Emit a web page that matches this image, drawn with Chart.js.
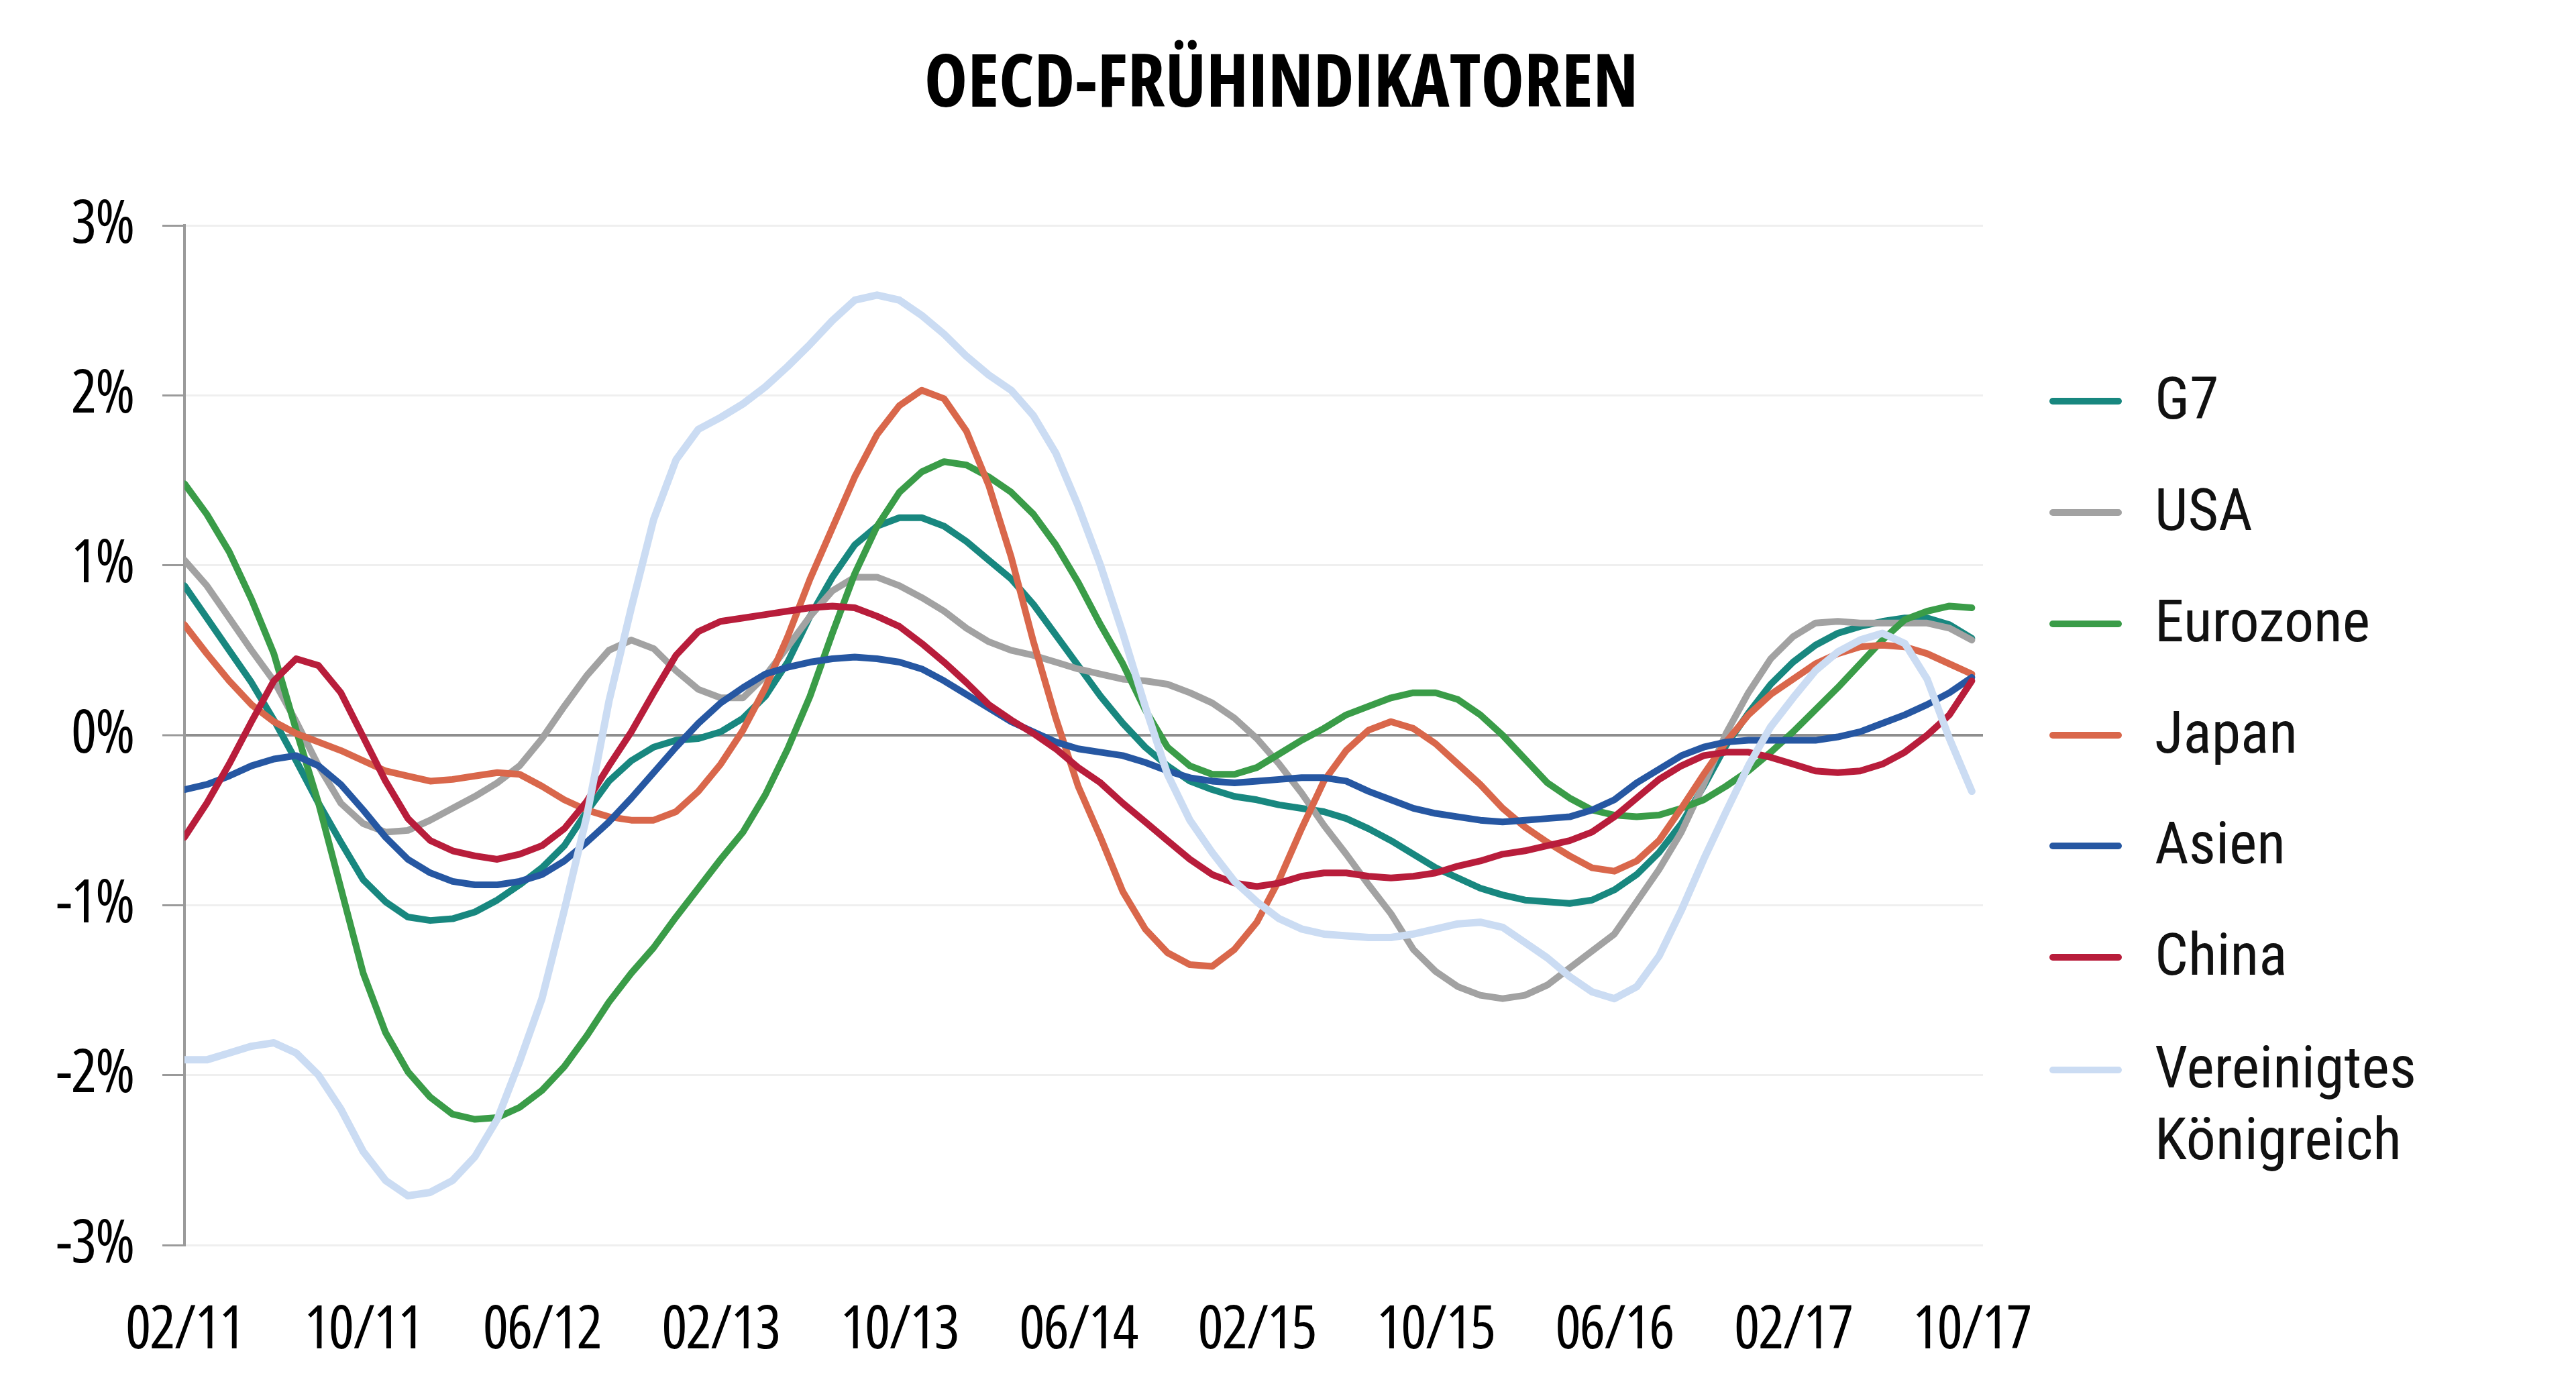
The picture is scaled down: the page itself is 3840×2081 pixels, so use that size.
<!DOCTYPE html>
<html><head><meta charset="utf-8">
<script src="https://cdn.jsdelivr.net/npm/chart.js@4.4.1/dist/chart.umd.min.js"></script>
<style>
html,body{margin:0;padding:0;background:#fff;overflow:hidden;}
#wrap{position:relative;width:3840px;height:2081px;}
#title{position:absolute;left:0;top:62px;width:3820px;text-align:center;font:700 condensed 109px 'Open Sans';line-height:109px;color:#000;margin:0;}
#legend{position:absolute;left:0;top:0;}
.li{position:absolute;left:3055px;}
.sw{position:absolute;left:0;width:108px;height:10px;border-radius:5px;}
.tx{position:absolute;left:157px;white-space:nowrap;font-family:Roboto;font-size:88px;font-stretch:78%;line-height:107px;color:#111;}
canvas{position:absolute;left:0;top:0;}
</style></head><body>
<div id="wrap">
<canvas id="c" width="3840" height="2081" style="width:3840px;height:2081px"></canvas>
<h1 id="title">OECD-FRÜHINDIKATOREN</h1>
<div id="legend"></div>
</div>
<script>
// x positions are months Feb 2011 (0) ... Oct 2017 (80)
const xTickLabels = ['02/11','10/11','06/12','02/13','10/13','06/14','02/15','10/15','06/16','02/17','10/17'];
const yTickLabels = ['-3%','-2%','-1%','0%','1%','2%','3%'];
const seriesNames = ['G7','USA','Eurozone','Japan','Asien','China',['Vereinigtes','Königreich']];
const seriesColors = ['#18877f','#a2a2a2','#3a9c48','#d9674b','#2657a2','#b81d3b','#cbdcf3'];

const g7 = [0.88,0.69,0.50,0.31,0.09,-0.15,-0.40,-0.63,-0.85,-0.98,
  -1.07,-1.09,-1.08,-1.04,-0.97,-0.88,-0.78,-0.65,-0.45,-0.27,
  -0.15,-0.07,-0.03,-0.02,0.02,0.10,0.23,0.43,0.70,0.93,
  1.12,1.23,1.28,1.28,1.23,1.14,1.03,0.92,0.77,0.59,
  0.41,0.23,0.07,-0.07,-0.18,-0.27,-0.32,-0.36,-0.38,-0.41,
  -0.43,-0.45,-0.49,-0.55,-0.62,-0.70,-0.78,-0.84,-0.90,-0.94,
  -0.97,-0.98,-0.99,-0.97,-0.91,-0.82,-0.69,-0.52,-0.30,-0.06,
  0.13,0.30,0.43,0.53,0.60,0.64,0.67,0.69,0.69,0.65,
  0.57];
const usa = [1.03,0.88,0.69,0.50,0.32,0.08,-0.18,-0.40,-0.52,-0.57,
  -0.56,-0.50,-0.43,-0.36,-0.28,-0.18,-0.02,0.17,0.35,0.50,
  0.56,0.51,0.38,0.27,0.22,0.22,0.35,0.52,0.70,0.85,
  0.93,0.93,0.88,0.81,0.73,0.63,0.55,0.50,0.47,0.43,
  0.39,0.36,0.33,0.32,0.30,0.25,0.19,0.10,-0.02,-0.17,
  -0.34,-0.53,-0.70,-0.88,-1.05,-1.26,-1.39,-1.48,-1.53,-1.55,
  -1.53,-1.47,-1.37,-1.27,-1.17,-0.98,-0.79,-0.57,-0.29,0.01,
  0.25,0.45,0.58,0.66,0.67,0.66,0.66,0.66,0.66,0.63,
  0.56];
const eurozone = [1.48,1.30,1.08,0.80,0.48,0.03,-0.40,-0.90,-1.40,-1.75,
  -1.98,-2.13,-2.23,-2.26,-2.25,-2.19,-2.09,-1.95,-1.77,-1.57,
  -1.40,-1.25,-1.07,-0.90,-0.73,-0.57,-0.35,-0.08,0.23,0.60,
  0.95,1.23,1.43,1.55,1.61,1.59,1.52,1.43,1.30,1.12,
  0.90,0.65,0.42,0.15,-0.07,-0.18,-0.23,-0.23,-0.19,-0.11,
  -0.03,0.04,0.12,0.17,0.22,0.25,0.25,0.21,0.12,0.00,
  -0.14,-0.28,-0.37,-0.44,-0.47,-0.48,-0.47,-0.43,-0.38,-0.30,
  -0.21,-0.10,0.02,0.15,0.28,0.42,0.56,0.68,0.73,0.76,
  0.75];
const japan = [0.65,0.48,0.32,0.18,0.08,0.01,-0.04,-0.09,-0.15,-0.21,
  -0.24,-0.27,-0.26,-0.24,-0.22,-0.23,-0.30,-0.38,-0.44,-0.48,
  -0.50,-0.50,-0.45,-0.33,-0.17,0.03,0.28,0.58,0.92,1.22,
  1.52,1.77,1.94,2.03,1.98,1.79,1.47,1.05,0.55,0.10,
  -0.30,-0.60,-0.92,-1.14,-1.28,-1.35,-1.36,-1.26,-1.10,-0.85,
  -0.55,-0.27,-0.09,0.03,0.08,0.04,-0.05,-0.17,-0.29,-0.43,
  -0.54,-0.63,-0.71,-0.78,-0.80,-0.74,-0.62,-0.43,-0.23,-0.04,
  0.12,0.24,0.33,0.42,0.48,0.52,0.53,0.52,0.48,0.42,
  0.36];
const asien = [-0.32,-0.29,-0.24,-0.18,-0.14,-0.12,-0.18,-0.29,-0.44,-0.60,
  -0.73,-0.81,-0.86,-0.88,-0.88,-0.86,-0.82,-0.74,-0.63,-0.51,
  -0.37,-0.22,-0.07,0.07,0.19,0.28,0.36,0.40,0.43,0.45,
  0.46,0.45,0.43,0.39,0.32,0.24,0.16,0.08,0.02,-0.04,
  -0.08,-0.10,-0.12,-0.16,-0.21,-0.25,-0.27,-0.28,-0.27,-0.26,
  -0.25,-0.25,-0.27,-0.33,-0.38,-0.43,-0.46,-0.48,-0.50,-0.51,
  -0.50,-0.49,-0.48,-0.44,-0.38,-0.28,-0.20,-0.12,-0.07,-0.04,
  -0.03,-0.03,-0.03,-0.03,-0.01,0.02,0.07,0.12,0.18,0.25,
  0.34];
const china = [-0.60,-0.40,-0.17,0.08,0.32,0.45,0.41,0.25,-0.01,-0.27,
  -0.49,-0.62,-0.68,-0.71,-0.73,-0.70,-0.65,-0.55,-0.39,-0.18,
  0.02,0.25,0.47,0.61,0.67,0.69,0.71,0.73,0.75,0.76,
  0.75,0.70,0.64,0.54,0.43,0.31,0.18,0.09,0.01,-0.08,
  -0.19,-0.28,-0.40,-0.51,-0.62,-0.73,-0.82,-0.87,-0.89,-0.87,
  -0.83,-0.81,-0.81,-0.83,-0.84,-0.83,-0.81,-0.77,-0.74,-0.70,
  -0.68,-0.65,-0.62,-0.57,-0.48,-0.37,-0.26,-0.18,-0.12,-0.10,
  -0.10,-0.13,-0.17,-0.21,-0.22,-0.21,-0.17,-0.10,0.00,0.12,
  0.32];
const uk = [-1.91,-1.91,-1.87,-1.83,-1.81,-1.87,-2.00,-2.20,-2.45,-2.62,
  -2.71,-2.69,-2.62,-2.48,-2.26,-1.92,-1.55,-1.03,-0.48,0.20,
  0.75,1.27,1.62,1.80,1.87,1.95,2.05,2.17,2.30,2.44,
  2.56,2.59,2.56,2.47,2.36,2.23,2.12,2.03,1.88,1.66,
  1.35,1.00,0.60,0.17,-0.23,-0.50,-0.69,-0.86,-0.98,-1.08,
  -1.14,-1.17,-1.18,-1.19,-1.19,-1.17,-1.14,-1.11,-1.10,-1.13,
  -1.22,-1.31,-1.42,-1.51,-1.55,-1.48,-1.30,-1.03,-0.73,-0.45,
  -0.18,0.05,0.22,0.38,0.49,0.56,0.60,0.54,0.33,-0.02,
  -0.33];

const seriesValues = [g7, usa, eurozone, japan, asien, china, uk];
const seriesWidths = [10,10,10,10,10,10,11];

const datasets = seriesValues.map((vals, i) => ({
  label: Array.isArray(seriesNames[i]) ? seriesNames[i].join(' ') : seriesNames[i],
  data: vals.map((v, m) => ({x: m, y: v})),
  borderColor: seriesColors[i],
  backgroundColor: seriesColors[i],
  borderWidth: seriesWidths[i],
  borderJoinStyle: 'round',
  borderCapStyle: 'round',
  pointRadius: 0,
  tension: 0,
  fill: false,
  order: seriesValues.length - 1 - i
}));

const tickFont = {family: "'Open Sans'", weight: '400 condensed', size: 90};

const tightText = {
  id: 'tightText',
  beforeDraw(chart) { chart.ctx.letterSpacing = '-2px'; }
};

new Chart(document.getElementById('c'), {
  type: 'line',
  data: {datasets},
  plugins: [tightText],
  options: {
    responsive: false,
    devicePixelRatio: 1,
    animation: false,
    layout: {padding: {top: 336, right: 884, bottom: 0, left: 0}},
    plugins: {legend: {display: false}, title: {display: false}, tooltip: {enabled: false}},
    scales: {
      x: {
        type: 'linear',
        min: 0,
        max: 80.5,
        afterFit: s => { s.height = 225; },
        afterBuildTicks: s => { s.ticks = xTickLabels.map((l, i) => ({value: i * 8})); },
        ticks: {
          autoSkip: false, maxRotation: 0, minRotation: 0,
          padding: 74, color: '#000', font: tickFont,
          callback: (v) => xTickLabels[Math.round(v / 8)]
        },
        grid: {display: false, drawTicks: false},
        border: {display: false}
      },
      y: {
        type: 'linear',
        min: -3,
        max: 3,
        afterFit: s => { s.width = 275; },
        afterBuildTicks: s => { s.ticks = yTickLabels.map((l, i) => ({value: i - 3})); },
        ticks: {
          padding: 43, color: '#000', font: tickFont,
          callback: (v) => yTickLabels[Math.round(v) + 3]
        },
        grid: {
          color: c => (c.tick && c.tick.value === 0) ? '#8e8e8e' : '#efefef',
          lineWidth: c => (c.tick && c.tick.value === 0) ? 4 : 3,
          tickColor: '#9a9a9a',
          tickLength: 33,
          tickWidth: 3,
          drawTicks: true
        },
        border: {display: true, color: '#9a9a9a', width: 4}
      }
    }
  }
});

// legend
const legendRows = [598, 764, 930, 1096, 1261, 1427, 1595];
const lg = document.getElementById('legend');
seriesNames.forEach((name, i) => {
  const li = document.createElement('div');
  li.className = 'li';
  li.style.top = legendRows[i] + 'px';
  const sw = document.createElement('div');
  sw.className = 'sw';
  sw.style.top = '-5px';
  sw.style.background = seriesColors[i];
  const tx = document.createElement('div');
  tx.className = 'tx';
  tx.style.top = '-58px';
  if (Array.isArray(name)) { tx.innerHTML = name.join('<br>'); } else { tx.textContent = name; }
  li.appendChild(sw); li.appendChild(tx); lg.appendChild(li);
});
</script>
</body></html>
